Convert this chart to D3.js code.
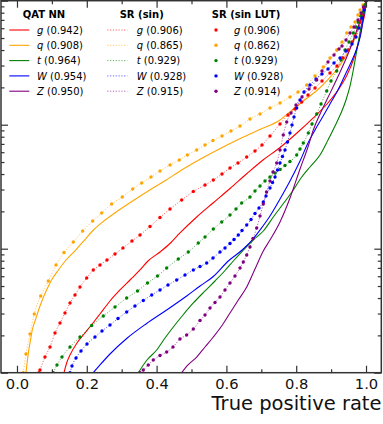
<!DOCTYPE html>
<html><head><meta charset="utf-8">
<script src="https://cdn.jsdelivr.net/npm/d3@7"></script>
<style>
html,body{margin:0;padding:0;background:#fff;}
svg{display:block;font-family:"DejaVu Sans",sans-serif;}
</style></head><body>
<svg id="chart" width="383" height="424"></svg>
<script>
// ---------- data (TPR, FPR) ----------
const classes = ["g","q","t","W","Z"];
const colors  = ["#ff0000","#ffa500","#008000","#0000ff","#800080"];
const aucQat = ["0.942","0.908","0.964","0.954","0.950"];
const aucSin = ["0.906","0.865","0.929","0.928","0.915"];
const aucLut = ["0.906","0.862","0.929","0.928","0.914"];
const legendTitles = ["QAT NN","SR (sin)","SR (sin LUT)"];
const xTicks = [0,0.2,0.4,0.6,0.8,1.0];
const xMinor = [0.1,0.3,0.5,0.7,0.9];
const yTicks = [1e-3,1e-2,1e-1,1];
const yMinor = [2e-3,3e-3,4e-3,5e-3,6e-3,7e-3,8e-3,9e-3,2e-2,3e-2,4e-2,5e-2,6e-2,7e-2,8e-2,9e-2,0.2,0.3,0.4,0.5,0.6,0.7,0.8,0.9];

const qatG = [[0.1347,1.000e-3],[0.1433,1.220e-3],[0.1519,1.389e-3],[0.1719,1.736e-3],[0.1948,2.090e-3],[0.2178,2.517e-3],[0.2378,2.975e-3],[0.2665,3.787e-3],[0.2951,4.645e-3],[0.3238,5.593e-3],[0.3524,6.734e-3],[0.3754,7.959e-3],[0.4097,9.405e-3],[0.4384,0.01101],[0.4670,0.01339],[0.5149,0.01802],[0.5616,0.02336],[0.6103,0.03058],[0.6590,0.04040],[0.7049,0.05191],[0.7536,0.06548],[0.8052,0.08734],[0.8481,0.1132],[0.8883,0.1469],[0.9198,0.1905],[0.9456,0.2517],[0.9656,0.3451],[0.9799,0.4820],[0.9914,0.6733],[0.9986,0.8731],[1,1]];
const qatQ = [[0.0258,1e-3],[0.030,1.266e-3],[0.0338,1.524e-3],[0.0387,1.835e-3],[0.0438,2.210e-3],[0.0527,2.661e-3],[0.0619,3.204e-3],[0.0725,3.858e-3],[0.0848,4.645e-3],[0.0991,5.593e-3],[0.1186,6.734e-3],[0.1404,8.108e-3],[0.1682,9.76e-3],[0.1937,0.01175],[0.2189,0.01415],[0.2527,0.01704],[0.2926,0.02052],[0.3355,0.02470],[0.3805,0.02974],[0.4275,0.03581],[0.4719,0.04312],[0.5209,0.05191],[0.5742,0.06252],[0.6307,0.07528],[0.6923,0.09064],[0.7536,0.1091],[0.7885,0.1314],[0.8241,0.1582],[0.8608,0.1905],[0.8897,0.2293],[0.9152,0.2761],[0.9355,0.3325],[0.9524,0.4003],[0.9659,0.4820],[0.9762,0.5803],[0.9857,0.6988],[0.9937,0.8413],[1,1]];
const qatT = [[0.3476,1e-3],[0.3725,1.266e-3],[0.4003,1.524e-3],[0.4241,1.904e-3],[0.4479,2.337e-3],[0.4756,2.920e-3],[0.5052,3.649e-3],[0.5387,4.560e-3],[0.5673,5.490e-3],[0.5960,6.671e-3],[0.6198,7.959e-3],[0.6484,9.76e-3],[0.6771,0.01175],[0.7057,0.01389],[0.7344,0.01802],[0.7622,0.02293],[0.7917,0.02974],[0.8138,0.03716],[0.8395,0.04559],[0.8682,0.05696],[0.8911,0.07528],[0.9112,0.09762],[0.9284,0.1242],[0.9427,0.1582],[0.9542,0.2052],[0.9636,0.2761],[0.9713,0.3648],[0.9799,0.5002],[0.9885,0.6733],[0.9957,0.8413],[1,1]];
const qatW = [[0.2186,1e-3],[0.2378,1.154e-3],[0.2665,1.415e-3],[0.3143,1.887e-3],[0.3716,2.494e-3],[0.4289,3.204e-3],[0.4862,4.155e-3],[0.5244,5.003e-3],[0.5625,5.968e-3],[0.6054,7.959e-3],[0.6484,9.943e-3],[0.6762,0.01197],[0.6963,0.01415],[0.7249,0.01836],[0.7536,0.02516],[0.7822,0.03515],[0.8109,0.05096],[0.8338,0.07120],[0.8539,0.09064],[0.8739,0.1132],[0.8968,0.1469],[0.9198,0.1905],[0.9427,0.2612],[0.9628,0.3451],[0.9771,0.4393],[0.9857,0.5489],[0.9914,0.6988],[0.9971,0.8731],[1,1]];
const qatZ = [[0.4719,1e-3],[0.4900,1.154e-3],[0.5149,1.338e-3],[0.5387,1.612e-3],[0.5625,1.941e-3],[0.5874,2.402e-3],[0.6103,3.030e-3],[0.6332,3.822e-3],[0.6582,4.911e-3],[0.6819,6.860e-3],[0.7057,9.581e-3],[0.7249,0.01175],[0.7536,0.01642],[0.7822,0.02563],[0.8109,0.04393],[0.8347,0.06735],[0.8490,0.09064],[0.8682,0.1219],[0.8874,0.1582],[0.9083,0.2090],[0.9284,0.2761],[0.9484,0.3716],[0.9656,0.5002],[0.9799,0.6487],[0.9914,0.8107],[1,1]];

const srG = [[0.0630,1e-3],[0.0659,1.052e-3],[0.0802,1.338e-3],[0.0946,1.612e-3],[0.1089,2.090e-3],[0.1232,2.517e-3],[0.1375,3.030e-3],[0.1519,3.649e-3],[0.1662,4.233e-3],[0.1805,4.911e-3],[0.1997,5.804e-3],[0.2186,6.734e-3],[0.2378,7.389e-3],[0.2579,8.108e-3],[0.2808,9.063e-3],[0.3037,0.01013],[0.3295,0.01153],[0.3524,0.01290],[0.3811,0.01510],[0.4097,0.01785],[0.4384,0.02090],[0.4719,0.02470],[0.5052,0.02892],[0.5387,0.03264],[0.5625,0.03581],[0.5874,0.04002],[0.6103,0.04475],[0.6332,0.04910],[0.6582,0.05489],[0.6819,0.06137],[0.7020,0.06861],[0.7249,0.08108],[0.7536,0.1013],[0.7765,0.1197],[0.7966,0.1339],[0.8158,0.1524],[0.8338,0.1736],[0.8539,0.1977],[0.8739,0.2251],[0.8968,0.2612],[0.9169,0.2974],[0.9341,0.3451],[0.9484,0.4003],[0.9599,0.4644],[0.9685,0.5192],[0.9771,0.6022],[0.9828,0.6733],[0.9885,0.7667],[0.9943,0.8731],[1,1]];
const srQ = [[0.0181,1e-3],[0.0258,1.415e-3],[0.0372,2.052e-3],[0.0496,2.975e-3],[0.0679,4.155e-3],[0.0897,5.490e-3],[0.1117,7.389e-3],[0.1347,9.32e-3],[0.1613,0.01132],[0.1883,0.01389],[0.2169,0.01673],[0.2427,0.01941],[0.2713,0.02293],[0.3017,0.02611],[0.3315,0.03030],[0.3573,0.03387],[0.3840,0.03786],[0.4097,0.04233],[0.4384,0.04731],[0.4650,0.05191],[0.4880,0.05696],[0.5149,0.06252],[0.5387,0.06861],[0.5616,0.07458],[0.5874,0.08108],[0.6132,0.08898],[0.6390,0.09762],[0.6676,0.1111],[0.6963,0.1219],[0.7249,0.1364],[0.7536,0.1497],[0.7822,0.1673],[0.8052,0.1836],[0.8301,0.2090],[0.8539,0.2471],[0.8777,0.2920],[0.8968,0.3451],[0.9160,0.4003],[0.9312,0.4644],[0.9447,0.5489],[0.9570,0.6136],[0.9685,0.6733],[0.9771,0.7667],[0.9828,0.8413],[0.9914,0.9232],[1,1]];
const srT = [[0.1040,1e-3],[0.1146,1.154e-3],[0.1289,1.338e-3],[0.1519,1.612e-3],[0.1805,1.941e-3],[0.2140,2.402e-3],[0.2473,2.866e-3],[0.2808,3.388e-3],[0.3143,4.004e-3],[0.3453,4.560e-3],[0.3739,5.290e-3],[0.4026,6.024e-3],[0.4289,6.989e-3],[0.4622,8.260e-3],[0.4908,9.405e-3],[0.5195,0.01111],[0.5387,0.01243],[0.5625,0.01441],[0.5866,0.01642],[0.6103,0.01870],[0.6275,0.02090],[0.6438,0.02336],[0.6676,0.02611],[0.6819,0.02919],[0.6963,0.03204],[0.7106,0.03515],[0.7249,0.03786],[0.7393,0.04078],[0.7536,0.04353],[0.7679,0.04687],[0.7822,0.05048],[0.8014,0.05696],[0.8109,0.06369],[0.8203,0.07120],[0.8347,0.08572],[0.8453,0.1013],[0.8587,0.1219],[0.8711,0.1469],[0.8874,0.1870],[0.8997,0.2251],[0.9160,0.2710],[0.9284,0.3325],[0.9398,0.4003],[0.9513,0.4644],[0.9636,0.5489],[0.9713,0.6136],[0.9779,0.6733],[0.9857,0.7526],[0.9923,0.8107],[0.9971,0.9232],[1,1]];
const srW = [[0.1519,1e-3],[0.1576,1.133e-3],[0.1691,1.314e-3],[0.1834,1.496e-3],[0.2006,1.704e-3],[0.2235,1.941e-3],[0.2436,2.169e-3],[0.2665,2.425e-3],[0.2894,2.736e-3],[0.3143,3.087e-3],[0.3381,3.452e-3],[0.3619,3.822e-3],[0.3860,4.233e-3],[0.4097,4.645e-3],[0.4327,5.097e-3],[0.4576,5.593e-3],[0.4814,6.137e-3],[0.5052,6.734e-3],[0.5244,7.186e-3],[0.5436,7.668e-3],[0.5616,8.414e-3],[0.5817,9.405e-3],[0.5960,0.01013],[0.6103,0.01101],[0.6218,0.01186],[0.6341,0.01290],[0.6447,0.01402],[0.6582,0.01553],[0.6705,0.01720],[0.6819,0.01923],[0.6934,0.02130],[0.7057,0.02380],[0.7135,0.02660],[0.7249,0.03086],[0.7321,0.03419],[0.7393,0.03786],[0.7464,0.04312],[0.7536,0.04910],[0.7607,0.05539],[0.7679,0.06252],[0.7751,0.07254],[0.7822,0.08572],[0.7880,0.09945],[0.7937,0.1153],[0.8014,0.1364],[0.8109,0.1582],[0.8223,0.1836],[0.8395,0.2090],[0.8567,0.2336],[0.8739,0.2564],[0.8911,0.2813],[0.9083,0.3145],[0.9255,0.3451],[0.9427,0.3930],[0.9599,0.4475],[0.9713,0.5096],[0.9799,0.6022],[0.9885,0.7252],[0.9943,0.8413],[1,1]];
const srZ = [[0.3524,1e-3],[0.3619,1.052e-3],[0.3762,1.154e-3],[0.3905,1.266e-3],[0.4097,1.376e-3],[0.4289,1.468e-3],[0.4470,1.612e-3],[0.4670,1.869e-3],[0.4862,2.014e-3],[0.5052,2.251e-3],[0.5244,2.636e-3],[0.5387,2.920e-3],[0.5530,3.325e-3],[0.5673,3.683e-3],[0.5817,4.079e-3],[0.5960,4.645e-3],[0.6103,5.290e-3],[0.6246,6.024e-3],[0.6390,6.989e-3],[0.6484,7.813e-3],[0.6582,8.897e-3],[0.6676,0.01032],[0.6762,0.01208],[0.6868,0.01468],[0.6963,0.01836],[0.7057,0.02293],[0.7149,0.02866],[0.7249,0.03515],[0.7335,0.04155],[0.7441,0.04910],[0.7536,0.06252],[0.7630,0.08260],[0.7728,0.1051],[0.7851,0.1242],[0.7994,0.1442],[0.8166,0.1673],[0.8367,0.1941],[0.8587,0.2293],[0.8739,0.2710],[0.8911,0.3204],[0.9083,0.3648],[0.9226,0.4078],[0.9312,0.4312],[0.9427,0.4820],[0.9542,0.5489],[0.9656,0.6136],[0.9771,0.6988],[0.9857,0.7957],[0.9928,0.8896],[1,1]];

const qatSeries = [qatG, qatQ, qatT, qatW, qatZ];
const srSeries  = [srG, srQ, srT, srW, srZ];
const lutSeries = [srG, srQ, srT, srW, srZ];

// ---------- layout ----------
const L = 1, R = 381.3, T = 0.7, B = 372.7;
const x = d3.scaleLinear().domain([-0.0458, 1.0438]).range([L, R]);
const y = d3.scaleLog().domain([1e-3, 1]).range([B, T]);
const svg = d3.select("#chart");
const axisColor = "#333";

svg.append("defs").append("clipPath").attr("id","clip")
  .append("rect").attr("x",L).attr("y",T).attr("width",R-L).attr("height",B-T);

const plot = svg.append("g").attr("clip-path","url(#clip)");
const line = d3.line().x(d => x(d[0])).y(d => y(d[1])).curve(d3.curveMonotoneX);

qatSeries.forEach((s,i) => {
  plot.append("path").datum(s).attr("d", line)
    .attr("fill","none").attr("stroke",colors[i]).attr("stroke-width",1.1);
});
srSeries.forEach((s,i) => {
  plot.append("path").datum(s).attr("d", line)
    .attr("fill","none").attr("stroke",colors[i]).attr("stroke-width",1)
    .attr("stroke-dasharray","1.2,1.6").attr("opacity",0.6);
});
lutSeries.forEach((s,i) => {
  plot.append("g").selectAll("circle").data(s).join("circle")
    .attr("cx", d => x(d[0])).attr("cy", d => y(d[1])).attr("r",1.7)
    .attr("fill",colors[i]);
});

// ---------- axes ----------
function styleAxis(g){
  g.select(".domain").remove();
  g.selectAll(".tick line").attr("stroke",axisColor).attr("stroke-width",1.2);
}
svg.append("g").attr("transform",`translate(0,${B})`)
  .call(d3.axisBottom(x).tickValues(xTicks).tickSize(-7).tickPadding(5.6).tickFormat(d3.format(".1f")))
  .call(styleAxis)
  .call(g => g.selectAll("text").attr("font-size",14.7).attr("fill","#111").attr("font-family","DejaVu Sans"));
svg.append("g").attr("transform",`translate(0,${B})`)
  .call(d3.axisBottom(x).tickValues(xMinor).tickSize(-3.5).tickFormat("")).call(styleAxis);
svg.append("g").attr("transform",`translate(0,${T})`)
  .call(d3.axisTop(x).tickValues(xTicks).tickSize(-7).tickFormat("")).call(styleAxis);
svg.append("g").attr("transform",`translate(0,${T})`)
  .call(d3.axisTop(x).tickValues(xMinor).tickSize(-3.5).tickFormat("")).call(styleAxis);
svg.append("g").attr("transform",`translate(${L},0)`)
  .call(d3.axisLeft(y).tickValues(yTicks).tickSize(-7).tickFormat("")).call(styleAxis);
svg.append("g").attr("transform",`translate(${L},0)`)
  .call(d3.axisLeft(y).tickValues(yMinor).tickSize(-3.5).tickFormat("")).call(styleAxis);
svg.append("g").attr("transform",`translate(${R},0)`)
  .call(d3.axisRight(y).tickValues(yTicks).tickSize(-7).tickFormat("")).call(styleAxis);
svg.append("g").attr("transform",`translate(${R},0)`)
  .call(d3.axisRight(y).tickValues(yMinor).tickSize(-3.5).tickFormat("")).call(styleAxis);

svg.append("rect").attr("x",L).attr("y",T).attr("width",R-L).attr("height",B-T)
  .attr("fill","none").attr("stroke",axisColor).attr("stroke-width",1.5);

svg.append("text").attr("x",381.5).attr("y",410).attr("text-anchor","end")
  .attr("font-size",19.5).attr("fill","#111").text("True positive rate");

// ---------- legends ----------
const titleX = [44, 141.7, 246];
const sampleX = [[9.3,29.3],[107.3,127.3],[216,216]];
const textX = [37, 136.7, 234];
const aucs = [aucQat, aucSin, aucLut];
const leg = svg.append("g");
legendTitles.forEach((t,c) => {
  leg.append("text").attr("x",titleX[c]).attr("y",18).attr("text-anchor","middle")
    .attr("font-size",10).attr("font-weight","bold").attr("fill","#000").text(t);
  classes.forEach((cl,i) => {
    const base = 33.7 + i*15.3;
    const cy = base - 3.7;
    if (c === 0) {
      leg.append("line").attr("x1",sampleX[c][0]).attr("x2",sampleX[c][1]).attr("y1",cy).attr("y2",cy)
        .attr("stroke",colors[i]).attr("stroke-width",1.1);
    } else if (c === 1) {
      leg.append("line").attr("x1",sampleX[c][0]).attr("x2",sampleX[c][1]).attr("y1",cy).attr("y2",cy)
        .attr("stroke",colors[i]).attr("stroke-width",1).attr("stroke-dasharray","1.2,1.6").attr("opacity",0.6);
    } else {
      leg.append("circle").attr("cx",sampleX[c][0]).attr("cy",cy).attr("r",1.7).attr("fill",colors[i]);
    }
    const tx = leg.append("text").attr("x",textX[c]).attr("y",base).attr("font-size",10).attr("fill","#000");
    tx.append("tspan").attr("font-style","italic").text(cl);
    tx.append("tspan").text(" (" + aucs[c][i] + ")");
  });
});
</script>
</body></html>
